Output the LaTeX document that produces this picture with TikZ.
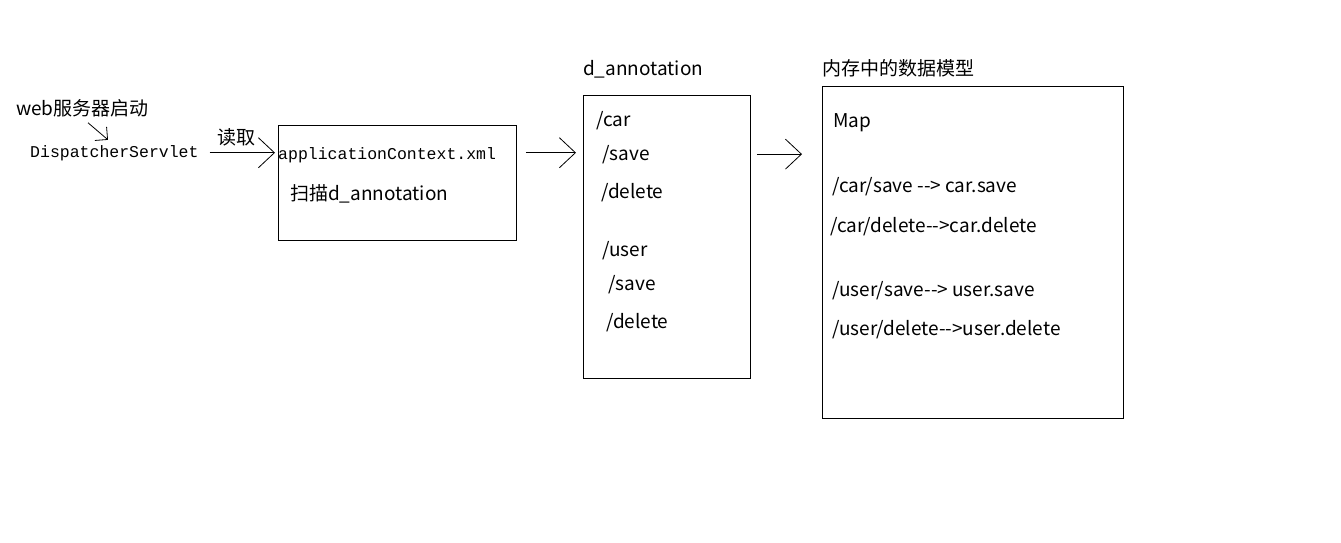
\documentclass[tikz,border=0pt]{standalone}
\usepackage{fontspec}
\setmainfont{Noto Sans CJK SC}
\setmonofont{Liberation Mono}
\usetikzlibrary{arrows.meta}
\begin{document}
\begin{tikzpicture}[x=1pt,y=-1pt,
  txt/.style={inner sep=0pt,anchor=base west,font=\fontsize{19}{21}\selectfont},
  mono/.style={inner sep=0pt,anchor=base west,font=\ttfamily\fontsize{16.5}{18}\selectfont},
  boxn/.style={draw,line width=0.8pt,inner sep=0pt,anchor=north west},
  arr/.style={line width=0.8pt,-{Straight Barb[length=16pt,width=30pt,line width=0.8pt]}},
  sarr/.style={line width=0.8pt,-{Straight Barb[length=9pt,width=18pt,line width=0.8pt]}}]
\fill[white] (0,0) rectangle (1341,543);
\useasboundingbox (0,0) rectangle (1341,543);
% boxes
\node[boxn,minimum width=238pt,minimum height=115pt] (box1) at (278,125) {};
\node[boxn,minimum width=167pt,minimum height=283pt] (box2) at (583,95) {};
\node[boxn,minimum width=301pt,minimum height=332pt] (box3) at (822,86) {};
% left texts
\node[txt] (web) at (16,115) {web服务器启动};
\node[mono] (ds) at (30,157) {DispatcherServlet};
\node[txt] (read) at (217,144) {读取};
\node[mono] (app) at (278,159) {applicationContext.xml};
\node[txt] (scan) at (290,200) {扫描d\_annotation};
% box2
\node[txt] (t2) at (583,75) {d\_annotation};
\node[txt] (car) at (596,126) {/car};
\node[txt] (save1) at (602,160) {/save};
\node[txt] (del1) at (601,198) {/delete};
\node[txt] (user) at (602,256) {/user};
\node[txt] (save2) at (608,290) {/save};
\node[txt] (del2) at (606,328) {/delete};
% box3
\node[txt] (t3) at (822,75) {内存中的数据模型};
\node[txt] (map) at (833,127) {Map};
\node[txt] (m1) at (832,192) {/car/save -{}-> car.save};
\node[txt] (m2) at (830,232) {/car/delete-{}->car.delete};
\node[txt] (m3) at (832,296) {/user/save-{}-> user.save};
\node[txt] (m4) at (832,335) {/user/delete-{}->user.delete};
% arrows
\draw[sarr] ([xshift=72pt,yshift=-6pt]web.south west) -- ([xshift=78pt,yshift=5pt]ds.north west);
\draw[arr] ([xshift=11pt]ds.east) -- ([xshift=-3pt]ds.east -| box1.west);
\draw[arr] ([xshift=9pt,yshift=2pt]box1.east |- app.east) -- ([xshift=-7pt,yshift=2pt]box2.west |- app.east);
\draw[arr] ([xshift=6pt]box2.east |- save1.east) -- ([xshift=-20pt]box3.west |- save1.east);
\end{tikzpicture}
\end{document}
